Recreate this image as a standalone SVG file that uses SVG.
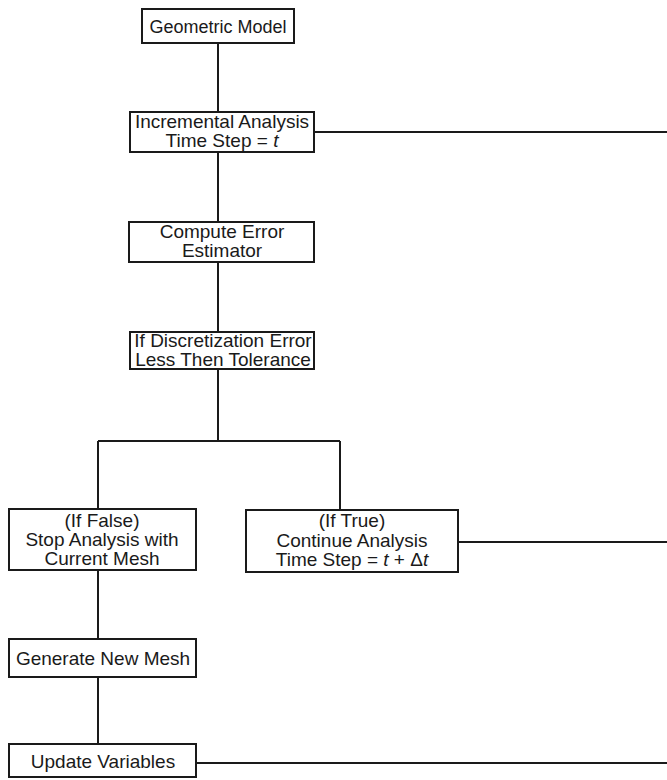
<svg xmlns="http://www.w3.org/2000/svg" width="667" height="780" viewBox="0 0 667 780">
<style>
.box{fill:#fff;stroke:#1a1a1a;stroke-width:2}
.ln{fill:none;stroke:#1a1a1a;stroke-width:2}
text{font-family:"Liberation Sans",Arial,sans-serif;font-size:19px;fill:#1a1a1a;text-anchor:middle}
.it{font-style:italic}
</style>
<rect width="667" height="780" fill="#fff"/>
<g id="connectors">
<path class="ln" d="M218 43V112M218 152V222M218 262V332M218 369V441M98 441H340M98 441V509M340 441V510M98 570V639M98 677V744"/>
<path class="ln" d="M314 132H667M458 542H667M196 763H667"/>
</g>
<g id="geometric-model">
<rect class="box" x="142" y="9" width="152" height="34"/>
<text x="218" y="33" style="font-size:18px">Geometric Model</text>
</g>
<g id="incremental-analysis">
<rect class="box" x="130" y="112" width="184" height="40"/>
<text x="222" y="128">Incremental Analysis</text>
<text x="222" y="147">Time Step = <tspan class="it">t</tspan></text>
</g>
<g id="compute-error">
<rect class="box" x="129" y="222" width="185" height="40"/>
<text x="222" y="238">Compute Error</text>
<text x="222" y="257">Estimator</text>
</g>
<g id="discretization-check">
<rect class="box" x="130" y="332" width="184" height="37"/>
<text x="223" y="347">If Discretization Error</text>
<text x="223" y="366">Less Then Tolerance</text>
</g>
<g id="if-false">
<rect class="box" x="9" y="509" width="187" height="61"/>
<text x="102" y="527">(If False)</text>
<text x="102" y="546">Stop Analysis with</text>
<text x="102" y="565">Current Mesh</text>
</g>
<g id="if-true">
<rect class="box" x="246" y="510" width="212" height="62"/>
<text x="352" y="527">(If True)</text>
<text x="352" y="547">Continue Analysis</text>
<text x="352" y="566">Time Step = <tspan class="it">t</tspan> + Δ<tspan class="it">t</tspan></text>
</g>
<g id="generate-mesh">
<rect class="box" x="9" y="639" width="187" height="38"/>
<text x="103" y="665">Generate New Mesh</text>
</g>
<g id="update-variables">
<rect class="box" x="9" y="744" width="187" height="33"/>
<text x="103" y="768">Update Variables</text>
</g>
</svg>
